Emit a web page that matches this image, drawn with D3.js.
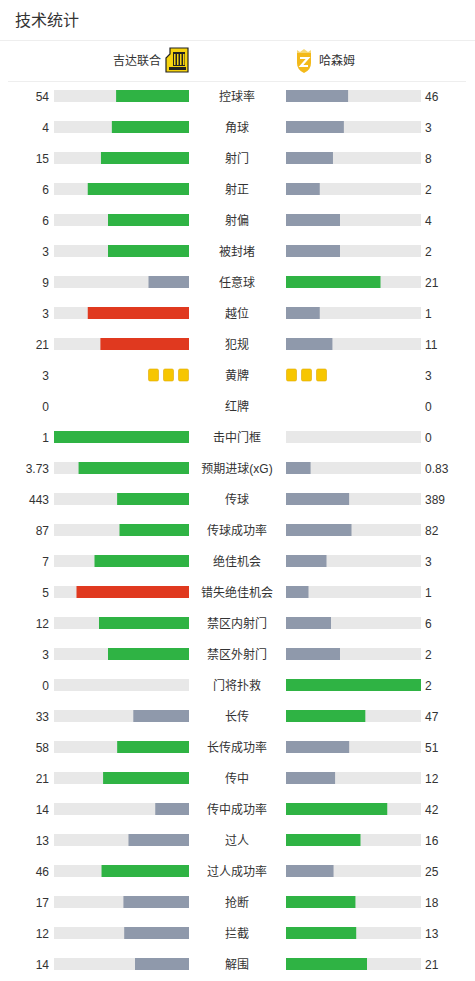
<!DOCTYPE html>
<html><head><meta charset="utf-8">
<script src="https://cdn.jsdelivr.net/npm/d3@7"></script>
<style>
body{margin:0;background:#fff;}
text{font-family:"Liberation Sans",Arial,"Noto Sans CJK SC",sans-serif;}
</style></head><body>
<svg id="c" width="475" height="981"></svg>
<script>
const title = "技术统计";
const homeTeam = "吉达联合";
const awayTeam = "哈森姆";
const labels = ["控球率","角球","射门","射正","射偏","被封堵","任意球","越位","犯规","黄牌","红牌","击中门框","预期进球(xG)","传球","传球成功率","绝佳机会","错失绝佳机会","禁区内射门","禁区外射门","门将扑救","长传","长传成功率","传中","传中成功率","过人","过人成功率","抢断","拦截","解围"];
const homeVals = [54,4,15,6,6,3,9,3,21,3,0,1,3.73,443,87,7,5,12,3,0,33,58,21,14,13,46,17,12,14];
const awayVals = [46,3,8,2,4,2,21,1,11,3,0,0,0.83,389,82,3,1,6,2,2,47,51,12,42,16,25,18,13,21];
const badStats = ["越位","犯规","错失绝佳机会"];
const cardStats = ["黄牌","红牌"];

const svg = d3.select("#c");
const C = {green:"#2fb344", gray:"#8f99ab", red:"#e0391f", bg:"#e8e8e8", text:"#333", yellow:"#f7c600"};

svg.append("text").attr("x",15).attr("y",26).attr("font-size",16).attr("fill",C.text).text(title);
svg.append("line").attr("x1",0).attr("x2",475).attr("y1",40.5).attr("y2",40.5).attr("stroke","#eee");
svg.append("line").attr("x1",8).attr("x2",466).attr("y1",81.5).attr("y2",81.5).attr("stroke","#eee");

svg.append("text").attr("x",161).attr("y",65).attr("text-anchor","end").attr("font-size",12).attr("fill",C.text).text(homeTeam);
svg.append("text").attr("x",319).attr("y",65).attr("font-size",12).attr("fill",C.text).text(awayTeam);

// Ittihad logo
const L1 = svg.append("g").attr("transform","translate(166,48)");
L1.append("path").attr("d","M4,0 H22 V24 H0 V10 L4,6 Z").attr("fill","#f6d30f").attr("stroke","#222").attr("stroke-width",1.2);
L1.append("rect").attr("x",7).attr("y",4).attr("width",12).attr("height",14).attr("fill","#222");
[8,11,14,17].forEach((x,i)=>L1.append("rect").attr("x",x).attr("y",6).attr("width",1.5).attr("height",11).attr("fill","#f6d30f"));
L1.append("rect").attr("x",3).attr("y",19).attr("width",17).attr("height",3).attr("fill","#222");
// Hazem logo
const L2 = svg.append("g").attr("transform","translate(296,49)");
L2.append("path").attr("d","M1,4 H15 V14 Q15,21 8,24 Q1,21 1,14 Z").attr("fill","#f3b91a");
L2.append("path").attr("d","M1,1 L4,3 L8,0 L12,3 L15,1 V4 H1 Z").attr("fill","#f7d873");
L2.append("path").attr("d","M4,9 H12 L5,17 H12").attr("fill","none").attr("stroke","#fff").attr("stroke-width",2.2);

const y = d3.scalePoint().domain(labels).range([96, 964]);
const barW = 135, barH = 12;
const lx0 = 54, rx0 = 286;

labels.forEach((lab,i)=>{
  const h = homeVals[i], a = awayVals[i];
  const cy = y(lab);
  const g = svg.append("g");
  g.append("text").attr("x",49).attr("y",cy+4.5).attr("text-anchor","end").attr("font-size",12).attr("fill",C.text).text(h);
  g.append("text").attr("x",425).attr("y",cy+4.5).attr("font-size",12).attr("fill",C.text).text(a);
  g.append("text").attr("x",237).attr("y",cy+4.5).attr("text-anchor","middle").attr("font-size",12).attr("fill",C.text).text(lab);
  if(cardStats.includes(lab)){
    const col = lab==="黄牌"?C.yellow:C.red;
    d3.range(h).forEach(k=>g.append("rect").attr("x",189-10.5-k*15).attr("y",cy-6).attr("width",10).attr("height",12).attr("rx",1.5).attr("fill",col).attr("stroke","#e0a800").attr("stroke-width",0.6));
    d3.range(a).forEach(k=>g.append("rect").attr("x",286.5+k*15).attr("y",cy-6).attr("width",10).attr("height",12).attr("rx",1.5).attr("fill",col).attr("stroke","#e0a800").attr("stroke-width",0.6));
    return;
  }
  const x = d3.scaleLinear().domain([0,h+a]).range([0,barW]);
  const bad = badStats.includes(lab);
  const hi = bad?C.red:C.green;
  const hc = h>a?hi:C.gray, ac = a>h?hi:C.gray;
  g.append("rect").attr("x",lx0).attr("y",cy-barH/2).attr("width",barW).attr("height",barH).attr("fill",C.bg);
  g.append("rect").attr("x",rx0).attr("y",cy-barH/2).attr("width",barW).attr("height",barH).attr("fill",C.bg);
  g.append("rect").attr("x",lx0+barW-x(h)).attr("y",cy-barH/2).attr("width",x(h)).attr("height",barH).attr("fill",hc);
  g.append("rect").attr("x",rx0).attr("y",cy-barH/2).attr("width",x(a)).attr("height",barH).attr("fill",ac);
});
</script></body></html>
